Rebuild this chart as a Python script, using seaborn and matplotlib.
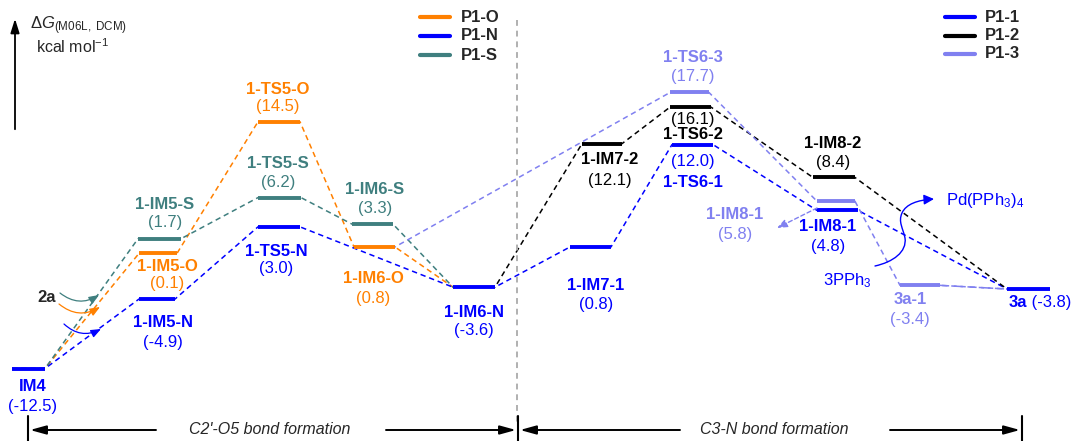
import matplotlib
matplotlib.use("Agg")
import matplotlib.pyplot as plt
import seaborn as sns
import pandas as pd
from matplotlib.path import Path
from matplotlib.patches import FancyArrowPatch

# ---------------- data ----------------
level_keys = ["IM4", "IM5-O", "IM5-N", "IM5-S", "TS5-O", "TS5-S", "TS5-N",
              "IM6-O", "IM6-S", "IM6-N", "IM7-1", "IM7-2", "TS6-1", "TS6-2",
              "TS6-3", "IM8-1a", "IM8-2", "IM8-1b", "3a-1", "3a"]
level_labels = ["IM4", "1-IM5-O", "1-IM5-N", "1-IM5-S", "1-TS5-O", "1-TS5-S", "1-TS5-N",
                "1-IM6-O", "1-IM6-S", "1-IM6-N", "1-IM7-1", "1-IM7-2", "1-TS6-1", "1-TS6-2",
                "1-TS6-3", "1-IM8-1", "1-IM8-2", "1-IM8-1", "3a-1", "3a"]
level_energy = [-12.5, 0.1, -4.9, 1.7, 14.5, 6.2, 3.0,
                0.8, 3.3, -3.6, 0.8, 12.1, 12.0, 16.1,
                17.7, 4.8, 8.4, 5.8, -3.4, -3.8]
level_series = ["P1-N", "P1-O", "P1-N", "P1-S", "P1-O", "P1-S", "P1-N",
                "P1-O", "P1-S", "P1-N", "P1-1", "P1-2", "P1-1", "P1-2",
                "P1-3", "P1-1", "P1-2", "P1-3", "P1-3", "P1-1"]

series_names = ["P1-O", "P1-N", "P1-S", "P1-1", "P1-2", "P1-3"]
path_P1_O = ["IM4", "IM5-O", "TS5-O", "IM6-O", "IM6-N"]
path_P1_N = ["IM4", "IM5-N", "TS5-N", "IM6-N"]
path_P1_S = ["IM4", "IM5-S", "TS5-S", "IM6-S", "IM6-N"]
path_P1_1 = ["IM6-N", "IM7-1", "TS6-1", "IM8-1a", "3a"]
path_P1_2 = ["IM6-N", "IM7-2", "TS6-2", "IM8-2", "3a"]
path_P1_3 = ["IM6-O", "TS6-3", "IM8-1b", "3a-1", "3a"]
paths = dict(zip(series_names, [path_P1_O, path_P1_N, path_P1_S, path_P1_1, path_P1_2, path_P1_3]))

# ---------------- style / layout ----------------
COLORS = {"P1-O": "#ff8000", "P1-N": "#0000ff", "P1-S": "#3f7f7f",
          "P1-1": "#0000ff", "P1-2": "#000000", "P1-3": "#8080f0"}

# key: (x_left, x_right, label_x, name_dy, value_dy)  (pixels, dy>0 = below)
LAYOUT = {
    "IM4":    (12, 45, 33, 18, 38),
    "IM5-O":  (139, 177, 167, 13, 30),
    "IM5-N":  (139, 175, 163, 23, 43),
    "IM5-S":  (138, 181, 165, -34, -16),
    "TS5-O":  (258, 300, 278, -32, -15),
    "TS5-S":  (258, 301, 278, -34, -15),
    "TS5-N":  (258, 300, 276, 25, 42),
    "IM6-O":  (354, 395, 373, 32, 52),
    "IM6-S":  (352, 393, 375, -35, -16),
    "IM6-N":  (453, 495, 474, 25, 43),
    "IM7-1":  (570, 611, 596, 39, 58),
    "IM7-2":  (582, 622, 610, 16, 37),
    "TS6-1":  (672, 713, 693, 38, 17),
    "TS6-2":  (670, 711, 693, 27, 12),
    "TS6-3":  (670, 709, 693, -35, -16),
    "IM8-1a": (817, 858, 828, 16, 36),
    "IM8-2":  (813, 855, 833, -34, -15),
    "IM8-1b": (817, 855, 735, 13, 33),
    "3a-1":   (900, 940, 910, 14, 34),
    "3a":     (1007, 1050, 1027, 13, 13),
}

W, H = 1076, 441
sns.set_theme(style="white")
plt.rcParams["font.family"] = ["Liberation Sans", "DejaVu Sans"]
plt.rcParams["mathtext.fontset"] = "custom"
plt.rcParams["mathtext.rm"] = "Liberation Sans"
plt.rcParams["mathtext.it"] = "Liberation Sans:italic"

fig = plt.figure(figsize=(W / 100, H / 100), dpi=100)
ax = fig.add_axes([0, 0, 1, 1])
ax.set_xlim(0, W)
ax.set_ylim(-20.43, 27.82)
ax.axis("off")

E = dict(zip(level_keys, level_energy))
LBL = dict(zip(level_keys, level_labels))
SER = dict(zip(level_keys, level_series))

# connectors through seaborn
rows = []
for s in series_names:
    for i, k in enumerate(paths[s]):
        xl, xr = LAYOUT[k][:2]
        rows.append((s, 2 * i, xl, E[k]))
        rows.append((s, 2 * i + 1, xr, E[k]))
df = pd.DataFrame(rows, columns=["series", "order", "x", "E"])
for s in series_names:
    sub = df[df.series == s]
    if s == "P1-3":
        # last hop (3a-1 -> 3a) is drawn with longer dashes
        n = len(sub)
        sns.lineplot(data=sub.iloc[:n - 1], x="x", y="E", sort=False, estimator=None, ax=ax,
                     color=COLORS[s], lw=1.1, linestyle=(0, (3.5, 2.5)), zorder=2)
        sns.lineplot(data=sub.iloc[n - 3:], x="x", y="E", sort=False, estimator=None, ax=ax,
                     color=COLORS[s], lw=1.1, linestyle=(0, (6, 3)), zorder=2)
    else:
        sns.lineplot(data=sub, x="x", y="E", sort=False, estimator=None, ax=ax,
                     color=COLORS[s], lw=1.1, linestyle=(0, (3.5, 2.5)), zorder=2)

# levels
for k in level_keys:
    xl, xr = LAYOUT[k][:2]
    ax.hlines(E[k], xl, xr, color=COLORS[SER[k]], lw=2.8, zorder=3)

# labels
for k in level_keys:
    xl, xr, lx, ndy, vdy = LAYOUT[k]
    c = COLORS[SER[k]]
    val = f"({E[k]:.1f})"
    if k == "3a":
        ax.annotate(LBL[k], (lx, E[k]), xytext=(0, -ndy), textcoords="offset pixels",
                    ha="right", va="center", fontsize=12, fontweight="bold", color=c)
        ax.annotate(" " + val, (lx, E[k]), xytext=(0, -vdy), textcoords="offset pixels",
                    ha="left", va="center", fontsize=12, color=c)
        continue
    ax.annotate(LBL[k], (lx, E[k]), xytext=(0, -ndy), textcoords="offset pixels",
                ha="center", va="center", fontsize=12, fontweight="bold", color=c)
    ax.annotate(val, (lx, E[k]), xytext=(0, -vdy), textcoords="offset pixels",
                ha="center", va="center", fontsize=12, color=c)

# ---------------- decorations (pixel axes) ----------------
d = fig.add_axes([0, 0, 1, 1], facecolor="none")
d.set_xlim(0, W)
d.set_ylim(H, 0)
d.axis("off")

# energy axis arrow
d.annotate("", xy=(15, 16), xytext=(15, 132),
           arrowprops=dict(arrowstyle="-|>,head_length=0.7,head_width=0.22", color="black", lw=1.3))
d.text(30, 26, r"$\Delta G_{\mathrm{(M06L,\ DCM)}}$", fontsize=12, ha="left", va="center")
d.text(36, 47, r"kcal mol$^{\mathrm{-1}}$", fontsize=11.5, ha="left", va="center")

# legends
for i, s in enumerate(["P1-O", "P1-N", "P1-S"]):
    y = 17 + i * 19
    d.plot([420, 450], [y, y], color=COLORS[s], lw=3)
    d.text(461, y, s, fontsize=12, fontweight="bold", ha="left", va="center")
for i, s in enumerate(["P1-1", "P1-2", "P1-3"]):
    y = 17 + i * 18.5
    d.plot([945, 975], [y, y], color=COLORS[s], lw=3)
    d.text(985, y, s, fontsize=12, fontweight="bold", ha="left", va="center")

# separator
d.plot([517, 517], [20, 426], color="#b0b0b0", lw=1.4, linestyle=(0, (3, 2.5)))

# bottom bracket
for x in (28, 518, 1022):
    d.plot([x, x], [416, 441], color="black", lw=1.5)
ak = dict(arrowstyle="-|>,head_length=0.8,head_width=0.22", color="black", lw=1.4,
          shrinkA=0, shrinkB=0)
d.annotate("", xy=(30, 430), xytext=(156, 430), arrowprops=ak)
d.annotate("", xy=(516, 430), xytext=(386, 430), arrowprops=ak)
d.annotate("", xy=(520, 430), xytext=(680, 430), arrowprops=ak)
d.annotate("", xy=(1020, 430), xytext=(890, 430), arrowprops=ak)
d.text(270, 430, "C2'-O5 bond formation", fontsize=11.5, style="italic", ha="center", va="center")
d.text(774, 430, "C3-N bond formation", fontsize=11.5, style="italic", ha="center", va="center")

# 2a and curved arrows
d.text(47, 298, "2a", fontsize=12, fontweight="bold", ha="center", va="center")
for (x0, y0, x1, y1, c) in [(60, 293, 99, 295, COLORS["P1-S"]),
                            (59, 304, 100, 307, COLORS["P1-O"]),
                            (64, 324, 101, 329, COLORS["P1-N"])]:
    d.annotate("", xy=(x1, y1), xytext=(x0, y0),
               arrowprops=dict(arrowstyle="-|>,head_length=0.5,head_width=0.2", color=c, lw=0.9,
                               connectionstyle="arc3,rad=0.35", shrinkA=0, shrinkB=0))

# dashed arrow to the P1-3 1-IM8-1 label
d.annotate("", xy=(777, 228), xytext=(817, 208),
           arrowprops=dict(arrowstyle="-|>,head_length=0.5,head_width=0.2", color=COLORS["P1-3"],
                           lw=1.0, linestyle=(0, (3, 2)), shrinkA=0, shrinkB=0))

# Pd(PPh3)4 release arrow
verts = [(875, 266), (893, 262), (907, 252), (905, 238),
         (903, 228), (898, 222), (902, 213),
         (906, 204), (918, 200), (934, 199)]
codes = [Path.MOVETO] + [Path.CURVE4] * 9
arr = FancyArrowPatch(path=Path(verts, codes), arrowstyle="-|>,head_length=3,head_width=1.5",
                      color="#0000ff", lw=1.0, mutation_scale=2)
d.add_patch(arr)
d.text(946, 200, r"Pd(PPh$_3$)$_4$", fontsize=12, color="#0000ff", ha="left", va="center")
d.text(847, 281, r"3PPh$_3$", fontsize=12, color="#0000ff", ha="center", va="center")

fig.savefig("out.png", dpi=100)
